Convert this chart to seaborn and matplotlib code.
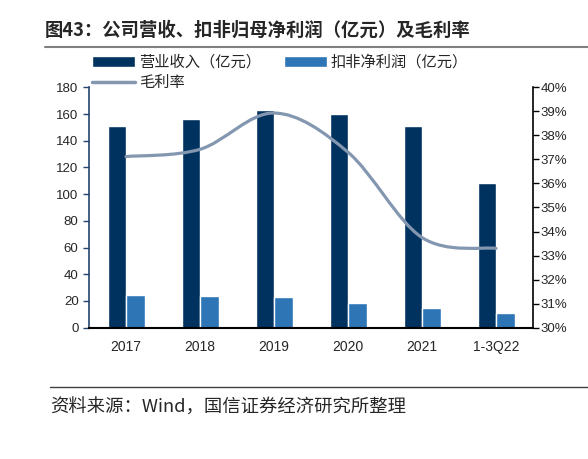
import numpy as np
import pandas as pd
import seaborn as sns
import matplotlib.pyplot as plt
from matplotlib.path import Path
from matplotlib.patches import PathPatch, Patch
from matplotlib.lines import Line2D
from matplotlib.ticker import FuncFormatter

# data
categories = ['2017', '2018', '2019', '2020', '2021', '1-3Q22']
revenue = [151.0, 156.0, 162.7, 159.7, 151.0, 108.3]        # 营业收入（亿元）
net_profit = [24.2, 23.7, 23.0, 18.5, 15.0, 11.2]           # 扣非净利润（亿元）
gross_margin = [37.12, 37.42, 38.93, 37.3, 33.75, 33.3]     # 毛利率 (%)

rev_label = '营业收入（亿元）'
net_label = '扣非净利润（亿元）'
gm_label = '毛利率'

dark = '#00325F'
light = '#2E75B6'
line_col = '#8497B0'

sns.set_style('white')
plt.rcParams['font.family'] = ['Liberation Sans', 'Noto Sans CJK SC']
cjk = ['Noto Sans CJK SC', 'DejaVu Sans']

df = pd.DataFrame({
    'cat': categories * 2,
    'val': revenue + net_profit,
    'series': [rev_label] * len(categories) + [net_label] * len(categories),
})

fig = plt.figure(figsize=(5.88, 4.59), dpi=100)
ax = fig.add_axes([89 / 588, 1 - 327.7 / 459, 444 / 588, 240.4 / 459])

sns.barplot(data=df, x='cat', y='val', hue='series', palette=[dark, light],
            width=0.5, gap=0, saturation=1, legend=False, ax=ax)
ax.set_xlabel('')
ax.set_ylabel('')
ax.set_xlim(-0.5, 5.5)
ax.set_ylim(0, 180)
ax.set_yticks(range(0, 181, 20))
ax.set_xticks(np.arange(-0.5, 6, 1), minor=True)
ax.tick_params(axis='x', which='major', length=0, pad=9, labelsize=10)
ax.tick_params(axis='x', which='minor', length=5, width=1.2, color='black', direction='out')
ax.tick_params(axis='y', length=4.5, width=1, color='#24456E', direction='out', pad=3, labelsize=9.5, left=True)
for s in ['top', 'right']:
    ax.spines[s].set_visible(False)
ax.spines['left'].set_color('#24456E')
ax.spines['left'].set_linewidth(1.2)
ax.spines['bottom'].set_color('black')
ax.spines['bottom'].set_linewidth(1.5)

# gross margin on right axis, smoothed like the original (Bezier through the points)
ax2 = ax.twinx()
ax2.set_ylim(30, 40)
ax2.set_yticks(range(30, 41, 1))
ax2.yaxis.set_major_formatter(FuncFormatter(lambda v, p: f'{v:.0f}%'))
ax2.tick_params(axis='y', length=4, width=1, color='black', direction='out', pad=1.5, labelsize=9.5, right=True)
for s in ['top', 'left', 'bottom']:
    ax2.spines[s].set_visible(False)
ax2.spines['right'].set_color('black')
ax2.spines['right'].set_linewidth(1.2)

pts = np.column_stack([np.arange(len(categories)), gross_margin])
verts = [pts[0]]
codes = [Path.MOVETO]
n = len(pts)
for i in range(n - 1):
    p_prev = pts[max(i - 1, 0)]
    p_next2 = pts[min(i + 2, n - 1)]
    c1 = pts[i] + (pts[i + 1] - p_prev) / 6
    c2 = pts[i + 1] - (p_next2 - pts[i]) / 6
    verts += [c1, c2, pts[i + 1]]
    codes += [Path.CURVE4] * 3
ax2.add_patch(PathPatch(Path(verts, codes), facecolor='none', edgecolor=line_col,
                        lw=2.3, capstyle='round'))

# legend on top
handles = [Patch(facecolor=dark), Line2D([], [], color=line_col, lw=2.5), Patch(facecolor=light)]
labels = [rev_label, gm_label, net_label]
fig.legend(handles, labels, ncol=2, loc='upper left', bbox_to_anchor=(92 / 588, 1 - 54 / 459),
           frameon=False, prop={'family': cjk, 'size': 11}, handlelength=2.8,
           handletextpad=0.25, columnspacing=1.55, labelspacing=0.2,
           borderpad=0, borderaxespad=0)

# title, rules and source
fig.text(45 / 588, 1 - 30 / 459, '图43：公司营收、扣非归母净利润（亿元）及毛利率',
         fontsize=13.2, family=cjk, va='center', weight='bold')
fig.add_artist(Line2D([45 / 588, 1], [1 - 47 / 459] * 2, color='#7F7F7F', lw=1.5))
fig.add_artist(Line2D([50 / 588, 1], [1 - 387 / 459] * 2, color='#404040', lw=1.0))
fig.text(50 / 588, 1 - 408 / 459, '资料来源：Wind，国信证券经济研究所整理',
         fontsize=13.2, family=cjk, va='center')

fig.savefig('out.png', dpi=100)
